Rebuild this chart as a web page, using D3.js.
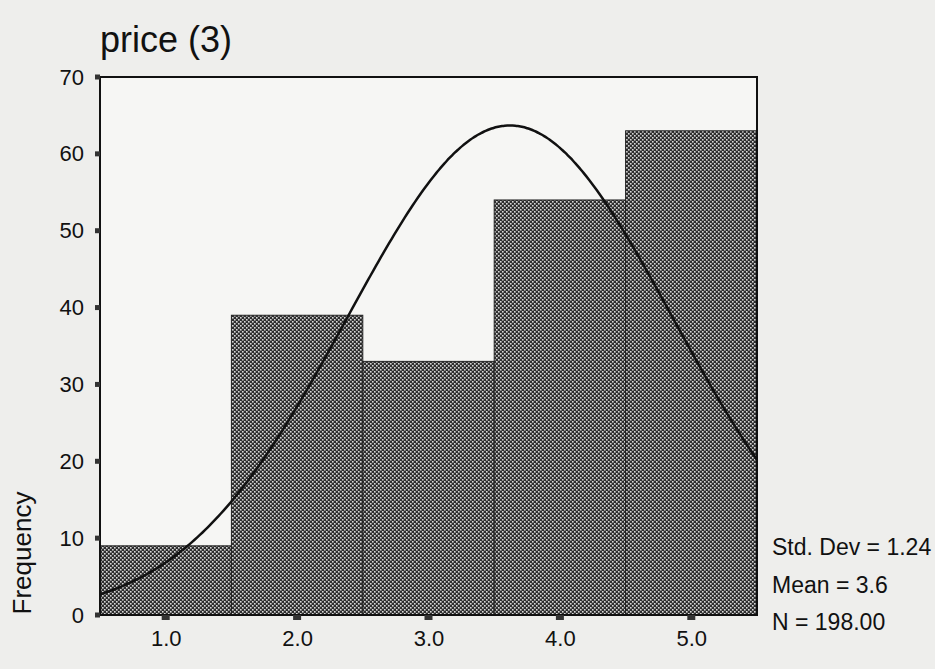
<!DOCTYPE html>
<html>
<head>
<meta charset="utf-8">
<script src="https://cdn.jsdelivr.net/npm/d3@7"></script>
<style>
  body { margin: 0; background: #eeeeec; }
  svg { display: block; font-family: "Liberation Sans", Arial, sans-serif; }
</style>
</head>
<body>
<svg id="chart" width="935" height="669"></svg>
<script>
// histogram bins (bin centres) and counts
var binCenters = [1, 2, 3, 4, 5];
var counts = [9, 39, 33, 54, 63];
var yTicks = [0, 10, 20, 30, 40, 50, 60, 70];
var xTicks = [1, 2, 3, 4, 5];
var statLabels = ["Std. Dev = 1.24", "Mean = 3.6", "N = 198.00"];

// summary stats used for the fitted normal curve
var stdDev = 1.24;
var mean = 3.62;
var n = 198;

var svg = d3.select("#chart");
var margin = {left: 100, top: 77, right: 178, bottom: 54};
var width = 935 - margin.left - margin.right;
var height = 669 - margin.top - margin.bottom;

var x = d3.scaleLinear().domain([0.5, 5.5]).range([0, width]);
var y = d3.scaleLinear().domain([0, 70]).range([height, 0]);

// checker hatch like the printed SPSS fill
var defs = svg.append("defs");
var pat = defs.append("pattern")
  .attr("id", "hatch")
  .attr("patternUnits", "userSpaceOnUse")
  .attr("width", 4)
  .attr("height", 4);
pat.append("rect").attr("width", 4).attr("height", 4).attr("fill", "#2e2e2e");
pat.append("rect").attr("x", 0).attr("y", 0).attr("width", 1.6).attr("height", 1.6).attr("fill", "#d8d8d8");
pat.append("rect").attr("x", 2).attr("y", 2).attr("width", 1.6).attr("height", 1.6).attr("fill", "#d8d8d8");

var g = svg.append("g")
  .attr("transform", "translate(" + margin.left + "," + margin.top + ")");

// plot background
g.append("rect")
  .attr("width", width)
  .attr("height", height)
  .attr("fill", "#f6f6f4");

// bars
g.selectAll(".bar")
  .data(binCenters)
  .enter()
  .append("rect")
  .attr("class", "bar")
  .attr("x", (d) => { return x(d - 0.5) })
  .attr("width", (d) => { return x(d + 0.5) - x(d - 0.5) })
  .attr("y", (d, i) => { return y(counts[i]) })
  .attr("height", (d, i) => { return height - y(counts[i]) })
  .attr("fill", "url(#hatch)")
  .attr("stroke", "#222")
  .attr("stroke-width", 1);

// normal curve
var curveX = d3.range(0.5, 5.5001, 0.02);
var line = d3.line()
  .x((d) => { return x(d) })
  .y((d) => {
    var z = (d - mean) / stdDev;
    return y(n / (stdDev * Math.sqrt(2 * Math.PI)) * Math.exp(-0.5 * z * z));
  })
  .curve(d3.curveBasis);

g.append("path")
  .datum(curveX)
  .attr("fill", "none")
  .attr("stroke", "#111")
  .attr("stroke-width", 2.5)
  .attr("d", line);

// frame
g.append("rect")
  .attr("width", width)
  .attr("height", height)
  .attr("fill", "none")
  .attr("stroke", "#111")
  .attr("stroke-width", 2);

// y axis
var yAxis = d3.axisLeft(y).tickValues(yTicks).tickSize(0).tickPadding(16);
var ya = g.append("g").call(yAxis);
ya.select(".domain").remove();
ya.selectAll("text")
  .attr("font-size", 22)
  .attr("fill", "#111")
  .style("font-family", "Liberation Sans, Arial, sans-serif");
g.selectAll(".ytick")
  .data(yTicks)
  .enter()
  .append("rect")
  .attr("x", -5)
  .attr("y", (d) => { return y(d) - 2.5 })
  .attr("width", 5)
  .attr("height", 5)
  .attr("fill", "#333");

// x axis
var xAxis = d3.axisBottom(x).tickValues(xTicks).tickSize(0).tickPadding(15)
  .tickFormat(d3.format(".1f"));
var xa = g.append("g").attr("transform", "translate(0," + height + ")").call(xAxis);
xa.select(".domain").remove();
xa.selectAll("text")
  .attr("font-size", 22)
  .attr("fill", "#111")
  .style("font-family", "Liberation Sans, Arial, sans-serif");
g.selectAll(".xtick")
  .data(xTicks)
  .enter()
  .append("rect")
  .attr("x", (d) => { return x(d) - 4 })
  .attr("y", height)
  .attr("width", 8)
  .attr("height", 5)
  .attr("fill", "#333");

// title
svg.append("text")
  .attr("x", 100)
  .attr("y", 52)
  .attr("font-size", 36)
  .attr("fill", "#111")
  .text("price (3)");

// y label
svg.append("text")
  .attr("transform", "translate(31,553) rotate(-90)")
  .attr("text-anchor", "middle")
  .attr("font-size", 26)
  .attr("fill", "#111")
  .text("Frequency");

// stats
svg.selectAll(".stat")
  .data(statLabels)
  .enter()
  .append("text")
  .attr("x", 772)
  .attr("y", (d, i) => { return 555 + i * 37.5 })
  .attr("font-size", 23)
  .attr("fill", "#111")
  .text((d) => { return d });
</script>
</body>
</html>
